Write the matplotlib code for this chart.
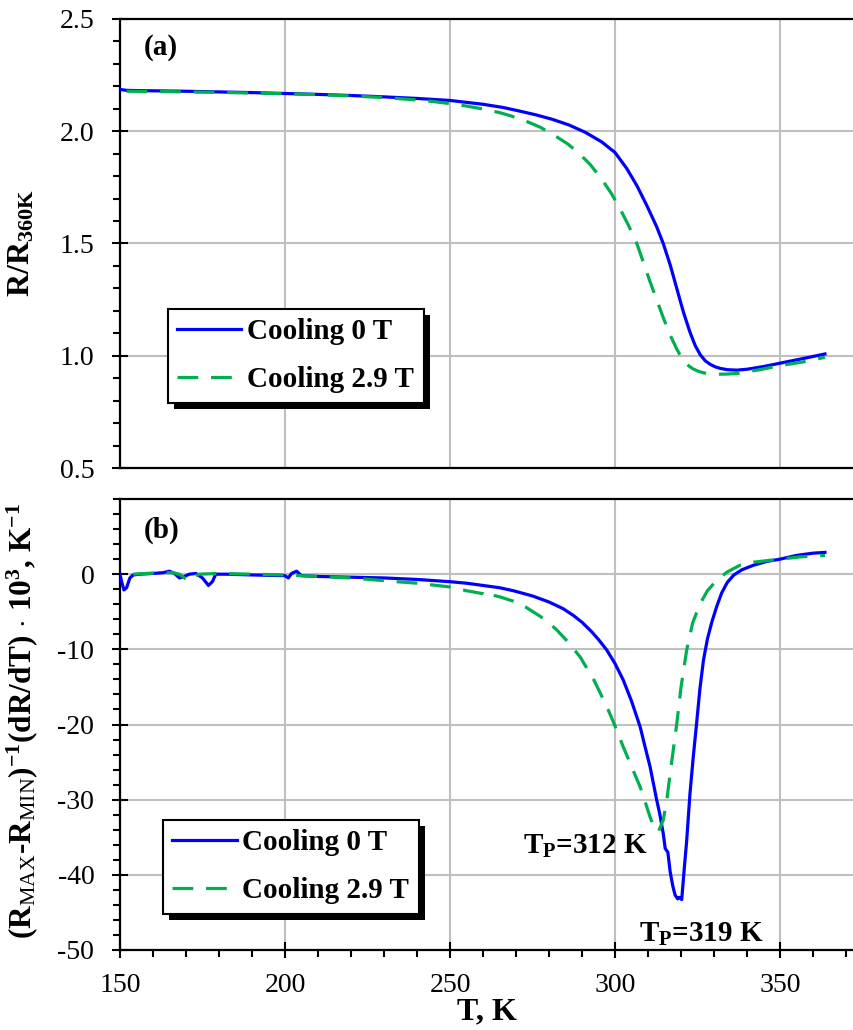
import matplotlib
matplotlib.use("Agg")
import matplotlib.pyplot as plt
from matplotlib.ticker import MultipleLocator, FormatStrFormatter
from matplotlib.patches import Rectangle

plt.rcParams.update({
    "font.family": ["Liberation Serif", "DejaVu Serif"],
    "mathtext.fontset": "custom",
    "mathtext.rm": "Liberation Serif",
    "mathtext.it": "Liberation Serif:italic",
    "mathtext.bf": "Liberation Serif:bold",
    "axes.unicode_minus": False,
})

# ---------------- data ----------------
# (a) normalised resistance R/R360K, cooling in 0 T
t_a_0T = [150, 152, 155, 160, 170, 180, 190, 200, 210, 220, 230, 240, 250, 260,
          266, 271, 276, 281, 286, 291, 296, 300, 303.5, 306.6, 309.6, 312.6,
          314.6, 316.7, 318.7, 320.7, 322.7, 324.3, 325.8, 327.3, 328.8, 330.3,
          331.8, 334, 336.9, 340, 345, 350, 357.1, 363.6]
r_a_0T = [2.186, 2.182, 2.181, 2.180, 2.178, 2.175, 2.172, 2.168, 2.164, 2.159,
          2.153, 2.146, 2.137, 2.120, 2.106, 2.090, 2.073, 2.053, 2.028, 1.995,
          1.952, 1.905, 1.835, 1.758, 1.670, 1.575, 1.500, 1.405, 1.300, 1.195,
          1.105, 1.045, 1.005, 0.978, 0.962, 0.951, 0.944, 0.938, 0.936, 0.940,
          0.952, 0.967, 0.988, 1.008]

# (a) normalised resistance, cooling in 2.9 T
t_a_29T = [152, 160, 170, 180, 190, 200, 210, 220, 230, 240, 245, 250, 255, 260,
           265, 268.5, 272.2, 277.3, 282.3, 285.5, 288.4, 292.4, 296, 299, 301.5,
           304.1, 306.6, 308.6, 310.6, 312.6, 314.6, 316.7, 318.7, 320, 321.2,
           322.5, 323.7, 325.2, 326.8, 329.8, 333, 336.9, 343.9, 350, 357.1, 363.6]
r_a_29T = [2.178, 2.177, 2.175, 2.173, 2.170, 2.167, 2.163, 2.157, 2.150, 2.139,
           2.132, 2.123, 2.112, 2.099, 2.083, 2.068, 2.050, 2.018, 1.975, 1.945,
           1.911, 1.853, 1.786, 1.720, 1.655, 1.580, 1.500, 1.415, 1.330, 1.250,
           1.170, 1.092, 1.030, 0.995, 0.970, 0.953, 0.941, 0.931, 0.924, 0.918,
           0.918, 0.921, 0.938, 0.956, 0.973, 0.993]

# (b) normalised derivative (R_MAX-R_MIN)^-1 dR/dT x 10^3, cooling in 0 T
t_b_0T = [150, 150.5, 151.2, 152, 153, 154, 156, 160, 163, 165, 166.5, 168, 169.5,
          171, 173, 175, 176.8, 178, 179, 182, 190, 200, 201, 202, 203.5, 205, 210,
          220, 230, 240, 250, 255, 260, 265, 269.2, 275, 280, 284.3, 287.4, 290,
          293, 295, 297.5, 300, 302.5, 305, 307.6, 309, 310.6, 312.6, 313.5, 314.6,
          315.2, 316, 316.7, 317.5, 318.2, 319, 319.5, 320.2, 321, 321.7, 322.7,
          323.7, 324.7, 325.7, 326.8, 328, 329.3, 330.8, 332.3, 334, 336, 338.5,
          342, 346, 350, 355, 360, 363.6]
d_b_0T = [0.0, -1.0, -2.1, -1.8, -0.5, -0.1, 0.0, 0.1, 0.2, 0.4, 0.1, -0.5, -0.3,
          0.0, 0.1, -0.5, -1.5, -1.0, 0.0, 0.0, -0.1, -0.2, -0.5, 0.1, 0.4, -0.2,
          -0.3, -0.4, -0.5, -0.7, -1.0, -1.2, -1.5, -1.8, -2.2, -2.9, -3.7, -4.6,
          -5.5, -6.4, -7.7, -8.7, -10.1, -11.9, -14.1, -16.9, -20.3, -22.8, -25.6,
          -30.0, -31.8, -34.5, -36.5, -37.0, -39.6, -41.5, -42.7, -43.2, -43.0,
          -43.3, -39.0, -35.5, -29.2, -24.3, -19.9, -15.3, -11.4, -8.6, -6.4, -4.3,
          -2.5, -1.1, -0.1, 0.6, 1.2, 1.7, 2.0, 2.5, 2.8, 2.9]

# (b) normalised derivative, cooling in 2.9 T
t_b_29T = [154, 158, 162, 166, 168, 169.5, 171.2, 172.5, 174, 180, 190, 200, 210,
           220, 233.8, 240, 250, 255, 260, 262, 263, 265, 269.2, 273, 277.3, 280,
           282.3, 285.5, 289.4, 293.5, 297.5, 300, 302.5, 305, 307.6, 309.2, 310.6,
           312.1, 313.2, 314.6, 315.7, 316.7, 318.7, 320, 321.7, 323.5, 325.8, 328,
           330.8, 334, 337.9, 342, 350, 356, 363.6]
d_b_29T = [0.0, 0.1, 0.2, 0.2, 0.0, -0.5, -0.9, -0.3, 0.0, 0.1, 0.0, -0.1, -0.3,
           -0.5, -1.0, -1.2, -1.7, -2.2, -2.6, -3.2, -2.8, -3.0, -3.6, -4.4, -5.6,
           -6.5, -7.4, -8.9, -11.0, -14.0, -17.6, -20.2, -23.0, -25.6, -28.3,
           -30.4, -32.3, -34.0, -34.2, -32.7, -30.0, -26.5, -19.9, -15.0, -10.1,
           -6.5, -3.9, -2.2, -0.8, 0.3, 1.2, 1.6, 2.0, 2.3, 2.5]

series_labels = ["Cooling 0 T", "Cooling 2.9 T"]
peak_labels = [r"T$_\mathbf{P}$=312 K", r"T$_\mathbf{P}$=319 K"]
peak_positions = [(272.2, -37.2), (307.2, -48.9)]

BLUE = "#0000ff"
GREEN = "#00b050"
GRID = "#bfbfbf"
DASH = (0, (6.5, 4.0))

# ---------------- figure ----------------
fig = plt.figure(figsize=(8.54, 10.30), dpi=100)
ax_a = fig.add_axes([0.1405, 0.5456, 0.8595, 0.4360])
ax_b = fig.add_axes([0.1405, 0.0777, 0.8595, 0.4378])

for ax in (ax_a, ax_b):
    ax.set_xlim(150, 372.4)
    ax.xaxis.set_major_locator(MultipleLocator(50))
    ax.xaxis.set_minor_locator(MultipleLocator(10))
    ax.grid(True, which="major", color=GRID, linewidth=1.5, zorder=0)
    ax.set_axisbelow(True)
    ax.spines["right"].set_visible(False)
    for s in ("left", "top", "bottom"):
        ax.spines[s].set_linewidth(1.6)
    ax.tick_params(which="major", direction="inout", length=11, width=1.5,
                   labelsize=20)
    ax.tick_params(which="minor", direction="out", length=5, width=1.5)
    ax.tick_params(axis="y", which="major", pad=13)
    ax.tick_params(axis="both", which="both", right=False, top=False)

# panel (a)
ax_a.plot(t_a_0T, r_a_0T, color=BLUE, lw=2.3, label=series_labels[0], zorder=3)
ax_a.plot(t_a_29T, r_a_29T, color=GREEN, lw=2.3, linestyle=DASH,
          label=series_labels[1], zorder=3)
ax_a.set_ylim(0.5, 2.5)
ax_a.yaxis.set_major_locator(MultipleLocator(0.5))
ax_a.yaxis.set_minor_locator(MultipleLocator(0.1))
ax_a.yaxis.set_major_formatter(FormatStrFormatter("%.1f"))
ax_a.tick_params(axis="x", which="both", bottom=False, labelbottom=False)
ax_a.text(0.056, 0.937, "(a)", transform=ax_a.transAxes, fontsize=21,
          fontweight="bold", ha="center", va="center")

# panel (b)
ax_b.plot(t_b_0T, d_b_0T, color=BLUE, lw=2.3, label=series_labels[0], zorder=3)
ax_b.plot(t_b_29T, d_b_29T, color=GREEN, lw=2.3, linestyle=DASH,
          label=series_labels[1], zorder=3)
ax_b.set_ylim(-50, 10)
ax_b.set_yticks(list(range(-50, 1, 10)))
ax_b.yaxis.set_minor_locator(MultipleLocator(2))
ax_b.tick_params(axis="x", which="major", pad=11)
ax_b.text(0.057, 0.93, "(b)", transform=ax_b.transAxes, fontsize=21,
          fontweight="bold", ha="center", va="center")
for lab, (tx, ty) in zip(peak_labels, peak_positions):
    ax_b.text(tx, ty, lab, fontsize=21, fontweight="bold", ha="left",
              va="baseline", zorder=4)

ax_b.set_xlabel("T, K", fontsize=23, fontweight="bold", labelpad=0)

fig.text(0.026, 0.764, r"R/R$_{\mathbf{360K}}$", rotation=90, fontsize=23,
         fontweight="bold", ha="center", va="center")
fig.text(0.026, 0.300,
         r"(R$_{\mathrm{MAX}}$-R$_{\mathrm{MIN}}$)$^{\mathbf{-1}}$(dR/dT) $\cdot$ 10$^{\mathbf{3}}$, K$^{\mathbf{-1}}$",
         rotation=90, fontsize=22.5, fontweight="bold", ha="center", va="center")

# legends with a solid offset shadow
legend_anchor = {ax_a: (0.0654, 0.354), ax_b: (0.0586, 0.288)}
legends = {}
for ax in (ax_a, ax_b):
    leg = ax.legend(loc="upper left", bbox_to_anchor=legend_anchor[ax],
                    borderaxespad=0, fancybox=False, framealpha=1,
                    edgecolor="black", handlelength=2.2, handletextpad=0.2,
                    labelspacing=0.72, borderpad=0.32,
                    prop={"family": "Liberation Serif", "weight": "bold",
                          "size": 21})
    leg.get_frame().set_linewidth(1.5)
    leg.set_zorder(6)
    legends[ax] = leg

fig.canvas.draw()
renderer = fig.canvas.get_renderer()
for ax, leg in legends.items():
    bb = leg.get_frame().get_window_extent(renderer)
    bbf = bb.transformed(fig.transFigure.inverted())
    dx = 6 / fig.bbox.width
    dy = 6 / fig.bbox.height
    shadow = Rectangle((bbf.x0 + dx, bbf.y0 - dy), bbf.width, bbf.height,
                       transform=fig.transFigure, facecolor="black",
                       edgecolor="none", zorder=5.5, clip_on=False)
    ax.add_artist(shadow)

fig.savefig("out.png", dpi=100)
